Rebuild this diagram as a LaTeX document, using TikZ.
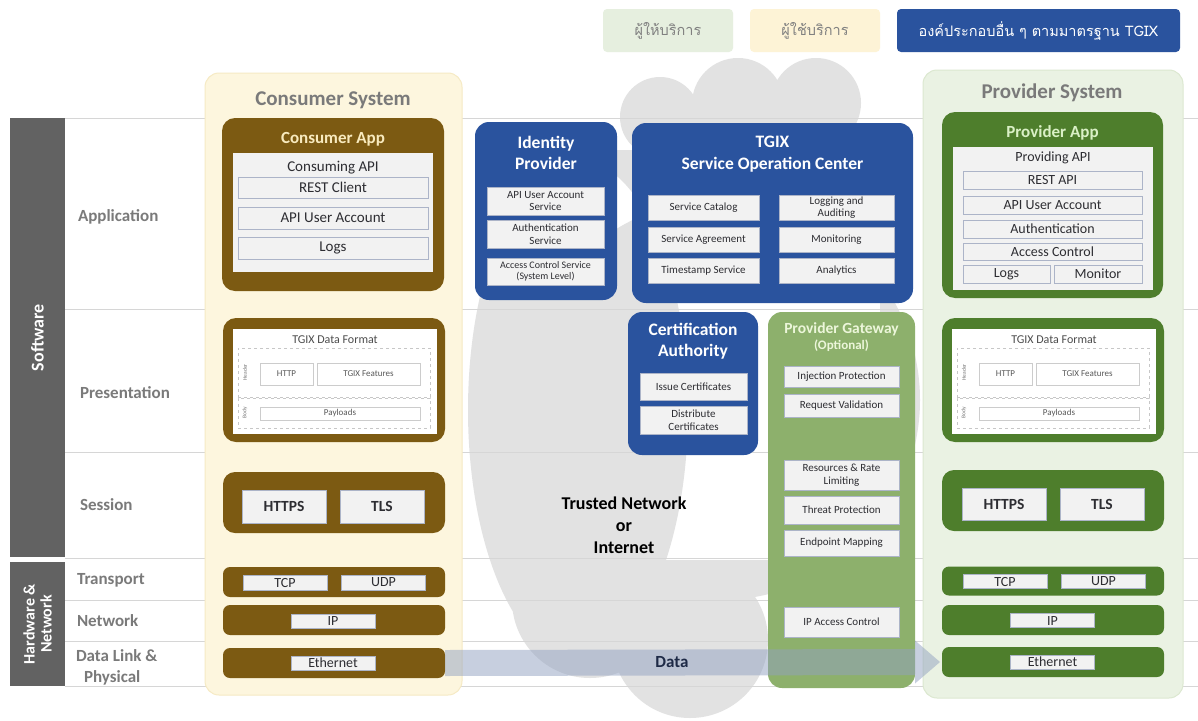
\documentclass[tikz,border=0pt]{standalone}
\usepackage{fontspec}
\setmainfont{Carlito}
\newfontfamily\thaifont[Script=Thai]{Loma}
\usetikzlibrary{calc}
\definecolor{cbrown}{RGB}{124,90,18}
\definecolor{cgreen}{RGB}{78,126,44}
\definecolor{tblue}{RGB}{42,83,158}
\definecolor{gwgreen}{RGB}{141,176,108}
\definecolor{cpanelf}{RGB}{253,246,222}
\definecolor{cpanelb}{RGB}{246,234,196}
\definecolor{ppanelf}{RGB}{234,242,227}
\definecolor{ppanelb}{RGB}{220,232,208}
\definecolor{cloudc}{RGB}{226,226,226}
\definecolor{rowline}{RGB}{214,214,214}
\definecolor{labgray}{RGB}{122,122,122}
\definecolor{barfill}{RGB}{98,98,98}
\definecolor{subfill}{RGB}{242,242,242}
\definecolor{subdraw}{RGB}{172,180,200}
\definecolor{txt}{RGB}{45,45,50}
\definecolor{ctitle}{RGB}{248,234,190}
\definecolor{ptitle}{RGB}{218,240,198}
\definecolor{gwtitle}{RGB}{236,246,218}
\definecolor{dataarrow}{RGB}{145,161,193}
\definecolor{datatext}{RGB}{30,42,70}
\definecolor{legA}{RGB}{230,239,223}
\definecolor{legB}{RGB}{253,243,214}
\newcommand\fs[2]{\fontsize{#1}{#2}\selectfont}
\newcommand\B[6]{\node[#1,minimum width=#4pt,minimum height=#5pt] (#2) at (#3) {#6};}
\tikzset{
  base/.style={inner sep=0pt,outer sep=0pt,align=center},
  cpanel/.style={base,fill=cpanelf,draw=cpanelb,line width=1pt,rounded corners=14pt},
  ppanel/.style={base,fill=ppanelf,draw=ppanelb,line width=1pt,rounded corners=14pt},
  bbox/.style={base,fill=cbrown,rounded corners=13pt},
  gbox/.style={base,fill=cgreen,rounded corners=13pt},
  blbox/.style={base,fill=tblue,rounded corners=14pt},
  gwbox/.style={base,fill=gwgreen,rounded corners=14pt},
  inner/.style={base,fill=subfill},
  whitein/.style={base,fill=white},
  sub/.style={base,fill=subfill,draw=subdraw,line width=0.5pt,text=txt},
  s15/.style={font=\fs{15}{17}},
  s14/.style={font=\fs{14}{16}},
  s11/.style={font=\fs{11}{12.5}},
  sbold/.style={font=\bfseries\fs{15.5}{17}},
  systitle/.style={base,text=labgray,font=\bfseries\fs{21}{24}},
  apptitle/.style={base,font=\bfseries\fs{17}{20}},
  bltitle/.style={base,text=white,font=\bfseries\fs{17.5}{21.5}},
  rowlab/.style={base,anchor=west,text=labgray,font=\bfseries\fs{17}{21},align=left},
  dashbox/.style={base,draw=black!22,dashed,line width=0.5pt},
  tiny/.style={base,fill=white,draw=black!20,line width=0.5pt,text=black!65,font=\fs{9}{10}},
  leg/.style={base,rounded corners=4pt,font=\thaifont\fs{14.5}{16}},
}
\newcommand\presblock[3]{%
  \begin{scope}[shift={(#2,0)}]
    \B{#3}{#1pres}{0,380}{222}{124}{}
    \B{whitein}{#1presin}{1,381.5}{204}{105}{}
    \node[base,text=black!70,font=\fs{12}{13}] (#1tdf) at (1,340) {TGIX Data Format};
    \B{dashbox}{#1hdr}{0,372.5}{192}{49}{}
    \B{dashbox}{#1bdy}{0,413}{192}{30}{}
    \node[base,rotate=90,text=black!55,font=\fs{5.5}{6}] (#1hdrl) at (-89,372.5) {Header};
    \node[base,rotate=90,text=black!55,font=\fs{5.5}{6}] (#1bdyl) at (-89,413) {Body};
    \B{tiny}{#1http}{-47.5,374}{53}{22}{HTTP}
    \B{tiny}{#1feat}{34.5,374}{103}{22}{TGIX Features}
    \B{tiny}{#1pay}{6,413.5}{160}{13}{Payloads}
  \end{scope}}
\begin{document}
\begin{tikzpicture}[x=1pt,y=-1pt]
\useasboundingbox (0,0) rectangle (1198,720);
\fill[white] (0,0) rectangle (1198,720);
% cloud
\fill[cloudc] (660,117) circle[radius=40] (738,104) circle[radius=46] (816,103) circle[radius=45]
  (600,150) rectangle (880,560)
  (578,410) ellipse[x radius=110,y radius=250]
  (720,400) circle[radius=200]
  (590,600) circle[radius=78]
  (690,640) circle[radius=78];
% row lines
\foreach \yy in {118,309,452,558,600,641,686}{\draw[rowline,line width=1pt] (65,\yy) -- (1198,\yy);}
% left bars
\B{base,fill=barfill}{swbar}{37.5,337.5}{55}{439}{}
\B{base,fill=barfill}{hwbar}{37.5,624}{55}{124}{}
\node[base,rotate=90,text=white,font=\bfseries\fs{18}{20}] (swlab) at (37.5,337.5) {Software};
\node[base,rotate=90,text=white,font=\bfseries\fs{16}{17}] (hwlab) at (37.5,624) {Hardware \&\\Network};
% row labels
\node[rowlab] (lapp) at (78,217) {Application};
\node[rowlab] (lpres) at (80,393) {Presentation};
\node[rowlab] (lsess) at (80,505) {Session};
\node[rowlab] (ltrans) at (77,580) {Transport};
\node[rowlab] (lnet) at (77,621) {Network};
\node[rowlab] (ldl) at (76,656) {Data Link \&};
\node[rowlab] (lphy) at (84,678) {Physical};
% legend
\B{leg,fill=legA,text=black!50}{legp}{668,30.5}{130}{43}{ผู้ให้บริการ}
\B{leg,fill=legB,text=black!50}{legc}{815,30.5}{130}{43}{ผู้ใช้บริการ}
\B{leg,fill=tblue,text=white}{lego}{1038.5,30.5}{283}{43}{องค์ประกอบอื่น ๆ ตามมาตรฐาน TGIX}
% ===== Consumer system =====
\B{cpanel}{cpan}{333.5,384}{257}{622}{}
\node[systitle] (ctit) at (333,100) {Consumer System};
\B{bbox}{capp}{333,204.5}{222}{173}{}
\node[apptitle,text=ctitle] (capptit) at (333,139) {Consumer App};
\B{inner}{cappin}{333,212.5}{200}{119}{}
\node[base,text=txt,font=\fs{15}{17}] (capi) at (333,168) {Consuming API};
\B{sub,s15}{crest}{333,187.5}{190}{21}{REST Client}
\B{sub,s15}{cacct}{333,218}{190}{22}{API User Account}
\B{sub,s15}{clogs}{333,248}{190}{22}{Logs}
\presblock{c}{334}{bbox}
\B{bbox,rounded corners=12pt}{csess}{334,502.5}{222}{61}{}
\B{sub,sbold}{chttps}{284,506.5}{84}{33}{HTTPS}
\B{sub,sbold}{ctls}{382,506.5}{84}{33}{TLS}
\B{bbox,rounded corners=7pt}{ctrans}{334,582}{222}{30}{}
\B{sub,s14}{ctcp}{285,582.5}{84}{15}{TCP}
\B{sub,s14}{cudp}{383.5,582.5}{84}{15}{UDP}
\B{bbox,rounded corners=7pt}{cnet}{334,620}{222}{30}{}
\B{sub,s14}{cip}{333,621}{84}{14}{IP}
\B{bbox,rounded corners=7pt}{cdl}{334,663}{222}{30}{}
\B{sub,s14}{ceth}{333,663}{84}{14}{Ethernet}
% ===== Provider system =====
\B{ppanel}{ppan}{1053,384}{260}{628}{}
\node[systitle] (ptit) at (1052,93) {Provider System};
\B{gbox}{papp}{1052.5,205}{221}{186}{}
\node[apptitle,text=ptitle] (papptit) at (1052.5,133) {Provider App};
\B{inner}{pappin}{1053,218.5}{200}{143}{}
\node[base,text=txt,font=\fs{14}{16}] (papi) at (1053,158) {Providing API};
\B{sub,s14}{prest}{1052.5,180}{179}{18}{REST API}
\B{sub,s14}{pacct}{1052.5,205}{179}{18}{API User Account}
\B{sub,s14}{pauth}{1052.5,229}{179}{18}{Authentication}
\B{sub,s14}{pacc}{1052.5,251.5}{179}{17}{Access Control}
\B{sub,s14}{plogs}{1006.5,274}{87}{18}{Logs}
\B{sub,s14}{pmon}{1098,274}{88}{18}{Monitor}
\presblock{p}{1053}{gbox}
\B{gbox,rounded corners=12pt}{psess}{1053,500.5}{222}{61}{}
\B{sub,sbold}{phttps}{1004,504}{84}{32}{HTTPS}
\B{sub,sbold}{ptls}{1102,504}{84}{32}{TLS}
\B{gbox,rounded corners=7pt}{ptrans}{1053,581}{222}{29}{}
\B{sub,s14}{ptcp}{1005,581.5}{84}{14}{TCP}
\B{sub,s14}{pudp}{1103.5,581.5}{84}{14}{UDP}
\B{gbox,rounded corners=7pt}{pnet}{1053,620}{222}{30}{}
\B{sub,s14}{pip}{1052.5,620.5}{84}{14}{IP}
\B{gbox,rounded corners=7pt}{pdl}{1053,662}{222}{30}{}
\B{sub,s14}{peth}{1052.5,662}{84}{14}{Ethernet}
% ===== Identity provider =====
\B{blbox}{idp}{546,211}{142}{178}{}
\node[bltitle] (idptit) at (546,153) {Identity\\Provider};
\B{sub,s11}{idp1}{545.5,201}{117}{28}{API User Account\\Service}
\B{sub,s11}{idp2}{545.5,234}{117}{28}{Authentication\\Service}
\B{sub,font=\fs{10}{11.5}}{idp3}{545.5,271.5}{117}{27}{Access Control Service\\(System Level)}
% ===== SOC =====
\B{blbox}{soc}{772.5,213}{281}{180}{}
\node[bltitle] (soctit) at (772.5,154) {TGIX\\Service Operation Center};
\B{sub,s11}{soc1}{703.5,207.5}{111}{25}{Service Catalog}
\B{sub,s11}{soc2}{703.5,239.5}{111}{25}{Service Agreement}
\B{sub,s11}{soc3}{703.5,270.5}{111}{25}{Timestamp Service}
\B{sub,s11}{soc4}{836.5,207.5}{115}{25}{Logging and\\Auditing}
\B{sub,s11}{soc5}{836.5,239.5}{115}{25}{Monitoring}
\B{sub,s11}{soc6}{836.5,270.5}{115}{25}{Analytics}
% ===== CA =====
\B{blbox}{ca}{693,383.5}{130}{143}{}
\node[bltitle] (catit) at (693,341) {Certification\\Authority};
\B{sub,s11}{ca1}{693.5,386.5}{107}{27}{Issue Certificates}
\B{sub,s11}{ca2}{693.5,420}{107}{28}{Distribute\\Certificates}
% ===== Gateway =====
\B{gwbox}{gw}{841.5,500}{147}{376}{}
\node[base,text=gwtitle,font=\bfseries\fs{15.5}{16}] (gwtit) at (841.5,337) {Provider Gateway\\{\fs{13}{15}(Optional)}};
\B{sub,s11}{gw1}{841.5,376.5}{115}{21}{Injection Protection}
\B{sub,s11}{gw2}{841.5,405.5}{115}{23}{Request Validation}
\B{sub,s11}{gw3}{841.5,475}{115}{30}{Resources \& Rate\\Limiting}
\B{sub,s11}{gw4}{841.5,510}{115}{28}{Threat Protection}
\B{sub,s11}{gw5}{841.5,543}{115}{26}{Endpoint Mapping}
\B{sub,s11}{gw6}{841.5,622}{115}{30}{IP Access Control}
% network text
\node[base,text=black,font=\bfseries\fs{18}{22}] (net) at (624,525) {Trusted Network\\or\\Internet};
% data arrow
\fill[dataarrow,opacity=0.5] ($(cdl.east)+(0,-13)$) -- ($(pdl.west)+(-27,-13)$) -- ($(pdl.west)+(-27,-21.5)$)
  -- ($(pdl.west)+(-2,0)$) -- ($(pdl.west)+(-27,21.5)$) -- ($(pdl.west)+(-27,13)$) -- ($(cdl.east)+(0,13)$) -- cycle;
\node[base,text=datatext,font=\bfseries\fs{17}{20}] (data) at (672,662) {Data};
\end{tikzpicture}
\end{document}
